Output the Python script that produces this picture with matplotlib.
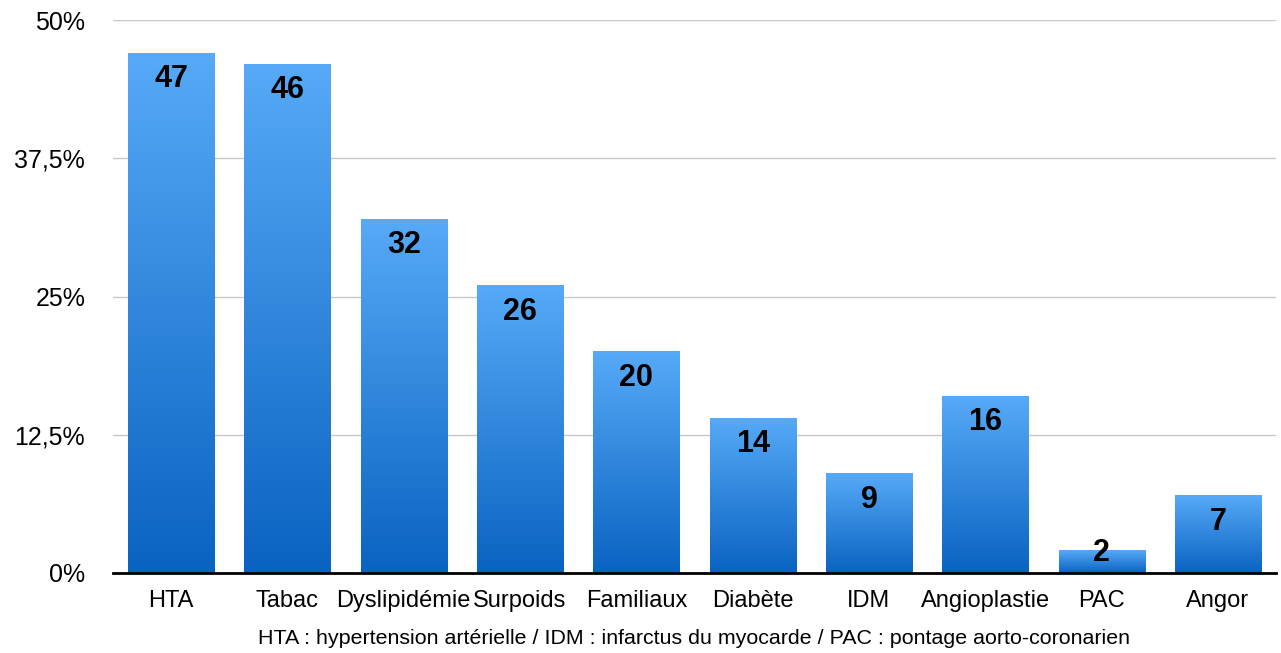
import numpy as np
import matplotlib.pyplot as plt
import matplotlib.transforms as mtransforms
from matplotlib.colors import LinearSegmentedColormap

plt.rcParams['font.family'] = ['Liberation Sans', 'DejaVu Sans']

categories = ['HTA', 'Tabac', 'Dyslipidémie', 'Surpoids', 'Familiaux',
              'Diabète', 'IDM', 'Angioplastie', 'PAC', 'Angor']
values = [47, 46, 32, 26, 20, 14, 9, 16, 2, 7]
yticks = [0, 12.5, 25, 37.5, 50]
ytick_labels = ['0%', '12,5%', '25%', '37,5%', '50%']
note = 'HTA : hypertension artérielle / IDM : infarctus du myocarde / PAC : pontage aorto-coronarien'

fig = plt.figure(figsize=(12.81, 6.53), dpi=100)
ax = fig.add_axes([113 / 1281, 1 - 573 / 653, 1163 / 1281, 553 / 653])

# gradient from light (top) to dark (bottom) in each bar
cmap = LinearSegmentedColormap.from_list('bl', ['#0A63C1', '#56AAF7'])
grad = np.linspace(0, 1, 256).reshape(-1, 1)

x = np.arange(len(categories))
bars = ax.bar(x, values, width=0.74, color='none', zorder=2)
for b, v in zip(bars, values):
    ax.imshow(grad, cmap=cmap, origin='lower', aspect='auto', zorder=2,
              extent=(b.get_x(), b.get_x() + b.get_width(), 0, b.get_height()))
    # label inside the top of the bar, pushed up when the bar is too short
    ax.text(b.get_x() + b.get_width() / 2, max(v - 1.0, 3.2), str(v),
            ha='center', va='top', fontsize=22, fontweight='bold',
            color='black', zorder=3)

ax.set_xlim(-0.5, len(categories) - 0.5)
ax.set_ylim(0, 50)
ax.set_yticks(yticks)
ax.set_yticklabels(ytick_labels, fontsize=18)
ax.set_xticks(x)
ax.set_xticklabels(categories, fontsize=17)
ax.tick_params(axis='both', length=0)
ax.tick_params(axis='y', pad=20)
ax.tick_params(axis='x', pad=12)
ax.yaxis.grid(True, color='#C8C8C8', linewidth=1, zorder=0)
ax.set_axisbelow(True)
for s in ['top', 'right', 'left']:
    ax.spines[s].set_visible(False)
ax.spines['bottom'].set_linewidth(2)
ax.spines['bottom'].set_zorder(4)

# footnote centred under the plot area
trans = mtransforms.blended_transform_factory(ax.transAxes, fig.transFigure)
ax.text(0.5, 1 - 638 / 653, note, ha='center', va='center', fontsize=15.4,
        transform=trans)

fig.savefig('out.png', dpi=100)
